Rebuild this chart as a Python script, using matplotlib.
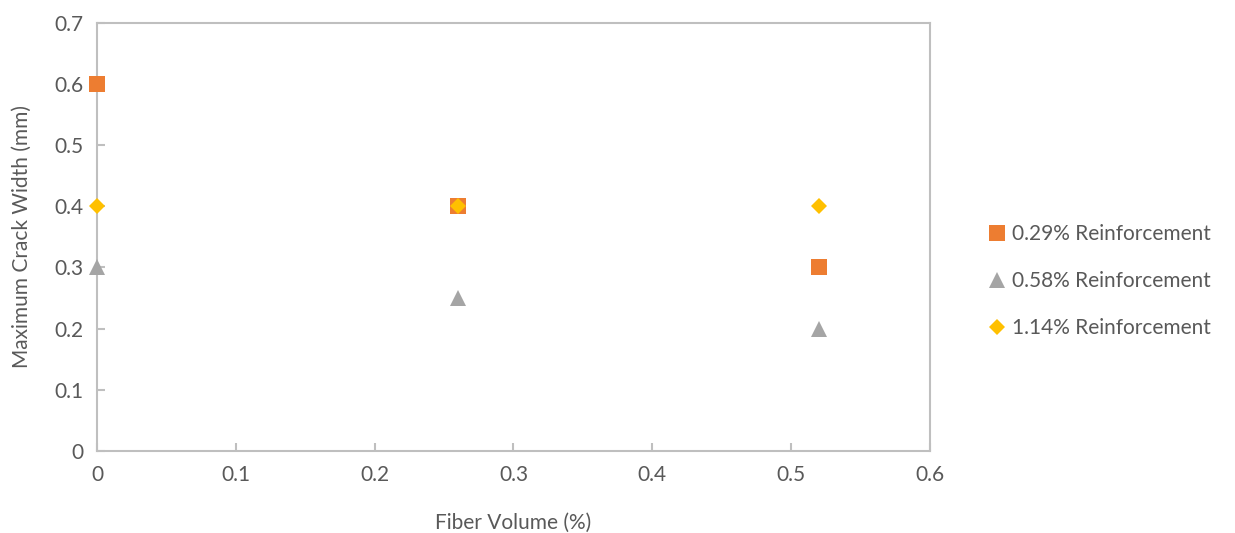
import matplotlib
matplotlib.use("Agg")
import matplotlib.pyplot as plt

plt.rcParams['font.family'] = ['Lato', 'DejaVu Sans']

fiber_volume = [0.0, 0.26, 0.52]
series_names = ["0.29% Reinforcement", "0.58% Reinforcement", "1.14% Reinforcement"]
crack_029 = [0.6, 0.4, 0.3]
crack_058 = [0.3, 0.25, 0.2]
crack_114 = [0.4, 0.4, 0.4]

x_ticks = [0, 0.1, 0.2, 0.3, 0.4, 0.5, 0.6]
y_ticks = [0, 0.1, 0.2, 0.3, 0.4, 0.5, 0.6, 0.7]

text_color = "#595959"
axis_color = "#BFBFBF"
styles = [("s", "#ED7D31", 11), ("^", "#A5A5A5", 11), ("D", "#FFC000", 8.5)]

fig = plt.figure(figsize=(12.35, 5.33), dpi=100)
ax = fig.add_axes([0.0785, 0.154, 0.6745, 0.803])

for vals, name, (m, c, s) in zip([crack_029, crack_058, crack_114], series_names, styles):
    ax.plot(fiber_volume, vals, linestyle="none", marker=m, color=c,
            markersize=s, markeredgewidth=0, label=name, clip_on=False, zorder=3)

ax.set_xlim(0, 0.6)
ax.set_ylim(0, 0.7)
ax.set_xticks(x_ticks)
ax.set_yticks(y_ticks)
ax.set_xticklabels([f"{v:g}" for v in x_ticks])
ax.set_yticklabels([f"{v:g}" for v in y_ticks])

for sp in ax.spines.values():
    sp.set_color(axis_color)
    sp.set_linewidth(1.5)
ax.tick_params(direction="in", length=6, width=1.5, color=axis_color,
               labelcolor=text_color, labelsize=15, pad=10)

ax.set_xlabel("Fiber Volume (%)", fontsize=15, color=text_color, labelpad=20)
ax.set_ylabel("Maximum Crack Width (mm)", fontsize=15, color=text_color, labelpad=16)

leg = ax.legend(loc="center left", bbox_to_anchor=(1.048, 0.397), frameon=False,
                fontsize=15, labelcolor=text_color, handlelength=0.8,
                handletextpad=0.3, labelspacing=1.3)

fig.savefig("out.png", dpi=100, facecolor="white")
